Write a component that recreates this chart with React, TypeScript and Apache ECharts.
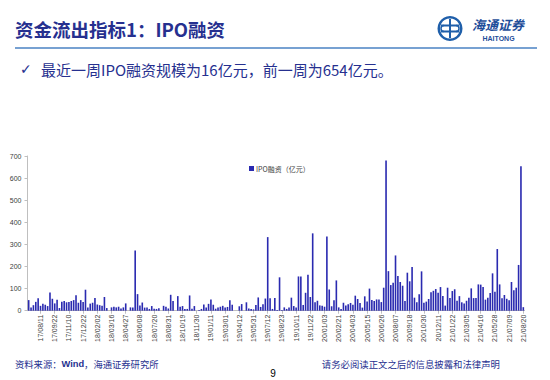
import React, { useEffect, useRef } from "react";
import * as echarts from "echarts";

const tickLabels = [
  "17/08/11", "17/09/22", "17/11/10", "17/12/22", "18/02/02", "18/03/16", "18/04/27",
  "18/06/08", "18/07/20", "18/08/31", "18/10/19", "18/11/30", "19/01/11", "19/03/01",
  "19/04/12", "19/05/31", "19/07/12", "19/08/23", "19/10/11", "19/11/22", "20/01/03",
  "20/02/21", "20/04/03", "20/05/15", "20/06/26", "20/08/07", "20/09/18", "20/10/30",
  "20/12/11", "21/01/22", "21/03/05", "21/04/16", "21/05/28", "21/07/09", "21/08/20",
];

const ipoValues = [
  48, 15, 25, 40, 56, 22, 32, 27, 21, 82,
  54, 33, 50, 12, 41, 44, 38, 39, 44, 48,
  70, 36, 48, 39, 95, 14, 32, 36, 57, 28,
  25, 22, 62, 12, 0, 15, 18, 15, 18, 10,
  15, 33, 0, 15, 15, 272, 75, 24, 37, 14,
  14, 8, 21, 9, 8, 11, 0, 22, 18, 10,
  72, 44, 0, 66, 18, 21, 8, 8, 69, 9,
  21, 0, 3, 8, 28, 15, 31, 51, 27, 9,
  15, 18, 22, 14, 17, 47, 27, 0, 0, 20,
  30, 0, 38, 10, 8, 6, 26, 60, 17, 29,
  55, 333, 56, 8, 58, 3, 151, 3, 15, 8,
  15, 59, 21, 14, 155, 155, 26, 81, 163, 62,
  350, 38, 45, 24, 22, 18, 336, 96, 20, 47,
  137, 15, 8, 36, 24, 29, 35, 27, 68, 53,
  35, 14, 65, 42, 100, 48, 44, 51, 51, 39,
  104, 680, 179, 116, 127, 250, 157, 130, 113, 44,
  172, 133, 198, 59, 38, 75, 178, 36, 41, 53,
  83, 90, 98, 81, 107, 66, 23, 104, 57, 89,
  97, 45, 66, 38, 33, 45, 59, 101, 57, 57,
  119, 118, 107, 50, 59, 80, 169, 86, 279, 119,
  56, 71, 54, 47, 130, 92, 104, 207, 654, 16,
];

const seriesName = "IPO融资（亿元）";
const titleText = "资金流出指标1：IPO融资";
const subtitleText = "最近一周IPO融资规模为16亿元，前一周为654亿元。";
const LABEL_OFFSET = 5;
const LABEL_STEP = 6;

function buildCategories(): string[] {
  const n = ipoValues.length;
  const cats: string[] = [];
  for (let i = 0; i < n; i++) {
    const k = Math.max(0, Math.ceil((i - LABEL_OFFSET) / LABEL_STEP));
    const L = LABEL_OFFSET + k * LABEL_STEP;
    const lab = tickLabels[Math.min(k, tickLabels.length - 1)];
    if (L === i) {
      cats.push(lab);
    } else {
      const [yy, mm, dd] = lab.split("/").map((s) => parseInt(s, 10));
      const d = new Date(Date.UTC(2000 + yy, mm - 1, dd));
      d.setUTCDate(d.getUTCDate() - 7 * (L - i));
      const s = (v: number) => String(v).padStart(2, "0");
      cats.push(`${s(d.getUTCFullYear() % 100)}/${s(d.getUTCMonth() + 1)}/${s(d.getUTCDate())}`);
    }
  }
  return cats;
}

const showIdx = (i: number) => i >= LABEL_OFFSET && (i - LABEL_OFFSET) % LABEL_STEP === 0;

export default function App() {
  const ref = useRef<HTMLDivElement>(null);
  useEffect(() => {
    if (!ref.current) return;
    const chart = echarts.init(ref.current, undefined, { renderer: "svg" });
    const navy = "#26308F";
    const cjk = "'Noto Sans CJK SC', 'Noto Sans', sans-serif";
    chart.setOption({
      animation: false,
      backgroundColor: "#ffffff",
      textStyle: { fontFamily: "'Liberation Sans', Arial, sans-serif" },
      grid: { left: 27.5, right: 25.5, top: 156, bottom: 69.3, containLabel: false },
      legend: {
        data: [seriesName],
        left: 244,
        top: 160,
        icon: "rect",
        itemWidth: 5,
        itemHeight: 5,
        itemGap: 2,
        textStyle: { fontSize: 7, color: "#404040", fontFamily: cjk, padding: [0, 0, 0, -3] },
      },
      xAxis: {
        type: "category",
        data: buildCategories(),
        boundaryGap: true,
        axisLine: { lineStyle: { color: "#BFBFBF", width: 1 } },
        axisTick: { show: true, alignWithLabel: true, interval: (i: number) => showIdx(i), length: 3, lineStyle: { color: "#BFBFBF" } },
        axisLabel: {
          interval: (i: number) => showIdx(i),
          rotate: 90,
          fontSize: 7,
          color: "#404040",
          margin: 4,
        },
        splitLine: { show: false },
      },
      yAxis: {
        type: "value",
        min: 0,
        max: 700,
        interval: 100,
        axisLine: { show: true, lineStyle: { color: "#BFBFBF", width: 1 } },
        axisTick: { show: true, length: 3, lineStyle: { color: "#BFBFBF" } },
        axisLabel: { fontSize: 7, color: "#404040", margin: 6 },
        splitLine: { show: false },
      },
      series: [
        {
          name: seriesName,
          type: "bar",
          data: ipoValues,
          barWidth: "68%",
          itemStyle: { color: "#2A2AB0" },
        },
      ],
      graphic: [
        {
          type: "text",
          x: 15,
          y: 29,
          style: { text: titleText, font: `bold 18.5px ${cjk}`, fill: navy, textAlign: "left", textVerticalAlign: "middle" },
        },
        {
          type: "line",
          shape: { x1: 15, y1: 48, x2: 537, y2: 48 },
          style: { stroke: "#4A82C3", lineWidth: 1.5 },
        },
        {
          type: "text",
          x: 20,
          y: 69,
          style: { text: "✓", font: "14px 'DejaVu Sans', sans-serif", fill: navy, textAlign: "left", textVerticalAlign: "middle" },
        },
        {
          type: "text",
          x: 41,
          y: 69,
          style: { text: subtitleText, font: `15px ${cjk}`, fill: navy, textAlign: "left", textVerticalAlign: "middle" },
        },
        // logo
        {
          type: "ring",
          shape: { cx: 450, cy: 28.5, r: 12.5, r0: 10 },
          style: { fill: "#1F5FAA" },
        },
        {
          type: "line",
          shape: { x1: 450, y1: 19, x2: 450, y2: 38 },
          style: { stroke: "#1F5FAA", lineWidth: 2 },
        },
        {
          type: "line",
          shape: { x1: 441, y1: 25.5, x2: 459, y2: 25.5 },
          style: { stroke: "#1F5FAA", lineWidth: 2 },
        },
        {
          type: "line",
          shape: { x1: 441, y1: 31.5, x2: 459, y2: 31.5 },
          style: { stroke: "#1F5FAA", lineWidth: 2 },
        },
        {
          type: "arc",
          shape: { cx: 444, cy: 28.5, r: 3, startAngle: Math.PI / 2, endAngle: Math.PI * 1.5 },
          style: { stroke: "#1F5FAA", lineWidth: 1.5, fill: "none" },
        },
        {
          type: "arc",
          shape: { cx: 456, cy: 28.5, r: 3, startAngle: -Math.PI / 2, endAngle: Math.PI / 2 },
          style: { stroke: "#1F5FAA", lineWidth: 1.5, fill: "none" },
        },
        {
          type: "text",
          x: 472,
          y: 24,
          style: { text: "海通证券", font: `italic bold 13px ${cjk}`, fill: "#1F4E9A", textAlign: "left", textVerticalAlign: "middle" },
        },
        {
          type: "text",
          x: 498.5,
          y: 38.5,
          style: { text: "HAITONG", font: "bold 7px 'Liberation Sans', Arial, sans-serif", fill: "#1F4E9A", textAlign: "center", textVerticalAlign: "middle" },
        },
        // footer
        {
          type: "text",
          x: 15,
          y: 364,
          style: {
            text: "{a|资料来源：}{b|Wind}{a|，海通证券研究所}",
            textAlign: "left",
            textVerticalAlign: "middle",
            rich: {
              a: { fontSize: 9.3, fontFamily: cjk, fill: navy, color: navy },
              b: { fontSize: 9.3, fontWeight: "bold", fontFamily: "'Liberation Sans', Arial, sans-serif", fill: navy, color: navy },
            },
          },
        },
        {
          type: "text",
          x: 500,
          y: 364,
          style: { text: "请务必阅读正文之后的信息披露和法律声明", font: `9.4px ${cjk}`, fill: navy, textAlign: "right", textVerticalAlign: "middle" },
        },
        {
          type: "text",
          x: 273,
          y: 373,
          style: { text: "9", font: "10px 'Liberation Sans', Arial, sans-serif", fill: "#000000", textAlign: "center", textVerticalAlign: "middle" },
        },
      ],
    });
    return () => chart.dispose();
  }, []);
  return (
    <div
      ref={ref}
      style={{ position: "fixed", left: 0, top: 0, width: 550, height: 380, background: "#fff" }}
    />
  );
}
